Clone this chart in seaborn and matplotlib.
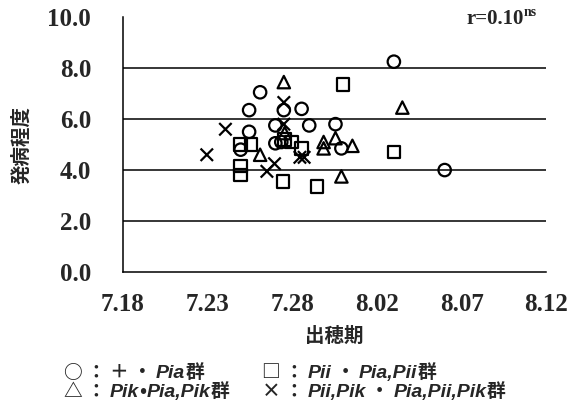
import pandas as pd
import seaborn as sns
import matplotlib.pyplot as plt

# 出穂期 is given as days after 7.18 (7.31 -> 13, 8.02 -> 15)
date_ticks = [0, 5, 10, 15, 20, 25]
date_labels = ['7.18', '7.23', '7.28', '8.02', '8.07', '8.12']
score_ticks = [0, 2, 4, 6, 8, 10]
score_labels = ['0.0', '2.0', '4.0', '6.0', '8.0', '10.0']

# ○ : + · Pia
circle_x = [16.0, 8.1, 7.45, 9.5, 10.55, 7.45, 9.0, 11.0, 12.55, 9.0, 6.95, 12.9, 19.0, 9.35]
circle_y = [8.25, 7.05, 6.35, 6.35, 6.4, 5.5, 5.75, 5.75, 5.8, 5.05, 4.8, 4.85, 4.0, 5.1]
# □ : Pii · Pia,Pii
square_x = [13.0, 6.95, 7.55, 9.55, 9.95, 10.55, 6.95, 6.95, 9.45, 11.45, 16.0]
square_y = [7.35, 5.0, 5.0, 5.2, 5.1, 4.85, 4.15, 3.8, 3.55, 3.35, 4.7]
# △ : Pik · Pia,Pik
triangle_x = [9.5, 16.5, 8.1, 11.85, 11.85, 12.55, 13.55, 12.9, 9.55]
triangle_y = [7.45, 6.45, 4.6, 5.1, 4.85, 5.25, 4.95, 3.75, 5.45]
# × : Pii,Pik · Pia,Pii,Pik
cross_x = [4.95, 6.05, 9.5, 9.5, 8.95, 8.5, 10.45, 10.7]
cross_y = [4.6, 5.6, 6.65, 5.8, 4.25, 3.95, 4.5, 4.5]

df = pd.concat([
    pd.DataFrame({'day': circle_x, 'score': circle_y, 'group': 'circle'}),
    pd.DataFrame({'day': square_x, 'score': square_y, 'group': 'square'}),
    pd.DataFrame({'day': triangle_x, 'score': triangle_y, 'group': 'triangle'}),
    pd.DataFrame({'day': cross_x, 'score': cross_y, 'group': 'cross'}),
], ignore_index=True)
markers = {'circle': 'o', 'square': 's', 'triangle': '^', 'cross': 'x'}

sns.set_style('white')
cjk = ['Noto Sans CJK JP', 'DejaVu Sans']

fig = plt.figure(figsize=(5.72, 4.16), dpi=100)
ax = fig.add_axes([0.215, 0.346, 0.74, 0.613])

for g, m in markers.items():
    sns.scatterplot(data=df[df.group == g], x='day', y='score', marker=m,
                    s=80, color='black', legend=False, ax=ax)
for coll in ax.collections:
    coll.set_facecolor('none')
    coll.set_edgecolor('black')
    coll.set_linewidth(1.6)

ax.hlines(score_ticks[1:-1], 0, 25, color='black', lw=1.1, zorder=0)

ax.set_xlim(0, 25)
ax.set_ylim(0, 10)
ax.set_xticks(date_ticks)
ax.set_xticklabels(date_labels)
ax.set_yticks(score_ticks)
ax.set_yticklabels(score_labels)
ax.tick_params(direction='in', length=4, width=1, color='black')
ax.tick_params(axis='x', pad=15)
ax.tick_params(axis='y', pad=23)
for lab in ax.get_xticklabels() + ax.get_yticklabels():
    lab.set_fontfamily('Liberation Serif')
    lab.set_fontweight('bold')
    lab.set_fontsize(18)

for side in ['top', 'right']:
    ax.spines[side].set_visible(False)
for side in ['left', 'bottom']:
    ax.spines[side].set_color('black')
    ax.spines[side].set_linewidth(1.1)

ax.set_ylabel('')
ax.set_xlabel('出穂期', family=cjk, fontweight='bold', fontsize=14, labelpad=8)
fig.text(0.038, 0.651, '発病程度', family=cjk, fontweight='bold',
         fontsize=14, rotation=90, ha='center', va='center')

renderer = fig.canvas.get_renderer()
W = fig.get_figwidth() * fig.dpi


def pieces(x, y, parts):
    for text, style in parts:
        t = fig.text(x, y, text, va='baseline', ha='left', **style)
        x += t.get_window_extent(renderer).width / W


jp = dict(family=cjk, fontweight='bold', fontsize=13.5)
it = dict(family='Liberation Sans', style='italic', fontweight='bold', fontsize=14)

pieces(0.112, 0.091, [('○ ： ＋ ・ ', jp), ('Pia', it), ('群', jp)])
pieces(0.458, 0.091, [('□ ： ', jp), ('Pii', it), (' ・ ', jp), ('Pia,Pii', it), ('群', jp)])
pieces(0.112, 0.046, [('△ ： ', jp), ('Pik', it), ('•', jp), ('Pia,Pik', it), ('群', jp)])
pieces(0.458, 0.046, [('× ： ', jp), ('Pii,Pik', it), (' ・ ', jp), ('Pia,Pii,Pik', it), ('群', jp)])

sr = dict(family='Liberation Serif', fontweight='bold', fontsize=15)
pieces(0.815, 0.943, [('r=0.10', sr)])
pieces(0.916, 0.962, [('ns', dict(family='Liberation Serif', fontweight='bold', fontsize=10))])

fig.savefig('out.png', dpi=100)
